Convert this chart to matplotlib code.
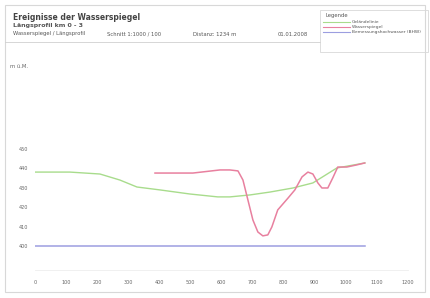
import matplotlib
matplotlib.use("Agg")
import matplotlib.pyplot as plt
from matplotlib.patches import Rectangle
from matplotlib.lines import Line2D

# Stationierung [m] und Höhen [m ü.M.]
x_ticks = [0, 100, 200, 300, 400, 500, 600, 700, 800, 900, 1000, 1100, 1200]
y_ticks = [400, 410, 420, 430, 440, 450]

gelaende_x = [0, 112, 209, 273, 328, 402, 498, 588, 627, 691, 756, 830, 894, 971, 1061]
gelaende_y = [438.1, 438.1, 437.1, 434.0, 430.4, 428.9, 426.8, 425.3, 425.3, 426.3, 427.8,
              429.9, 432.5, 440.2, 442.8]

wsp_x = [386, 508, 595, 627, 653, 669, 685, 701, 717, 733, 749, 762, 781, 814, 836, 859, 878,
         894, 910, 923, 942, 958, 974, 1003, 1035, 1061]
wsp_y = [437.6, 437.6, 439.2, 439.2, 438.7, 434.0, 423.7, 413.4, 407.2, 405.2, 405.7, 409.8,
         418.6, 424.7, 428.9, 435.6, 438.1, 437.1, 432.5, 429.9, 429.9, 435.1, 440.7, 440.7,
         441.8, 442.8]

bhw_x = [0, 1061]
bhw_y = [400, 400]

c_green = "#a8dc8c"
c_pink = "#e8809f"
c_blue = "#9c9ee0"

fig = plt.figure(figsize=(4.3, 2.98), dpi=100)
W, H = 430, 298

# Rahmen
fig.add_artist(Rectangle((5 / W, 1 - 292 / H), 420 / W, 287 / H, transform=fig.transFigure,
                         fill=False, edgecolor="#d8d8d8", linewidth=0.8))
fig.add_artist(Line2D([5 / W, 320 / W], [1 - 42 / H, 1 - 42 / H], transform=fig.transFigure,
                      color="#d0d0d0", linewidth=0.6))

# Kopf
fig.text(13 / W, 1 - 18 / H, "Ereignisse der Wasserspiegel", fontsize=5.5, fontweight="bold",
         va="center", color="#444444")
fig.text(13 / W, 1 - 25.5 / H, "Längsprofil km 0 - 3", fontsize=4.5, fontweight="bold",
         va="center", color="#555555")
kopf = [(13, "Wasserspiegel / Längsprofil"), (107, "Schnitt 1:1000 / 100"),
        (193, "Distanz: 1234 m"), (278, "01.01.2008")]
for px, t in kopf:
    fig.text(px / W, 1 - 34 / H, t, fontsize=3.8, va="center", color="#555555")

# Legende
fig.add_artist(Rectangle((320 / W, 1 - 52 / H), 108 / W, 42 / H, transform=fig.transFigure,
                         fill=False, edgecolor="#d8d8d8", linewidth=0.6))
fig.text(325 / W, 1 - 15 / H, "Legende", fontsize=3.8, va="center", color="#555555")
leg = [(c_green, "Geländelinie", 22), (c_pink, "Wasserspiegel", 27),
       (c_blue, "Bemessungshochwasser (BHW)", 32)]
for c, t, py in leg:
    fig.add_artist(Line2D([323 / W, 350 / W], [1 - py / H, 1 - py / H], transform=fig.transFigure,
                          color=c, linewidth=0.8))
    fig.text(352 / W, 1 - py / H, t, fontsize=3.2, va="center", color="#555555")

fig.text(10 / W, 1 - 66 / H, "m ü.M.", fontsize=3.8, va="center", color="#666666")

ax = fig.add_axes([35 / W, 28 / H, 373 / W, 210 / H])
ax.plot(gelaende_x, gelaende_y, color=c_green, linewidth=1.0)
ax.plot(wsp_x, wsp_y, color=c_pink, linewidth=1.1)
ax.plot(bhw_x, bhw_y, color=c_blue, linewidth=1.1)

ax.set_xlim(0, 1200)
ax.set_ylim(387.6, 495.9)
ax.set_xticks(x_ticks)
ax.set_yticks(y_ticks)
ax.tick_params(length=0, labelsize=3.5, labelcolor="#666666")
ax.tick_params(axis="x", pad=7)
ax.tick_params(axis="y", pad=5)
for s in ["top", "right", "left"]:
    ax.spines[s].set_visible(False)
ax.spines["bottom"].set_color("#eeeeee")
ax.spines["bottom"].set_linewidth(0.6)

fig.savefig("out.png", dpi=100)
